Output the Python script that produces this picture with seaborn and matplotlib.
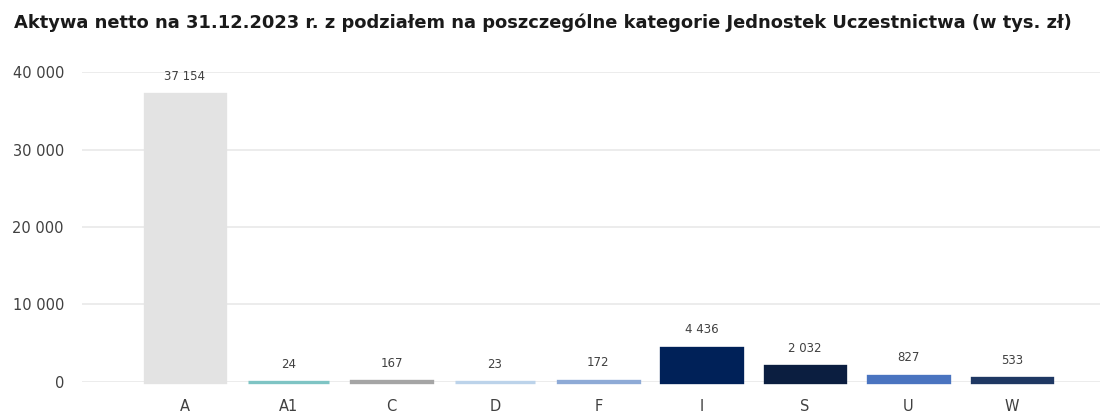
import pandas as pd
import seaborn as sns
import matplotlib.pyplot as plt
from matplotlib.ticker import FuncFormatter

# Net assets per unit category (thousand PLN)
categories = ["A", "A1", "C", "D", "F", "I", "S", "U", "W"]
values = [37154, 24, 167, 23, 172, 4436, 2032, 827, 533]
colors = ["#e3e3e3", "#7ec4c4", "#a5a5a5", "#bcd3ea", "#8eaad6",
          "#002158", "#0b1e40", "#4a74c0", "#1f3863"]

TITLE = "Aktywa netto na 31.12.2023 r. z podziałem na poszczególne kategorie Jednostek Uczestnictwa (w tys. zł)"


def fmt_space(v):
    return "{:,.0f}".format(v).replace(",", " ")


def main():
    sns.set_style("white")
    plt.rcParams["font.family"] = ["DejaVu Sans"]

    df = pd.DataFrame({"cat": categories, "val": values})

    fig = plt.figure(figsize=(11.05, 4.12), dpi=100)
    ax = fig.add_axes([0.0742, 0.073, 0.921, 0.752])

    # outline in the bar colour so the tiny values still show up as a line
    sns.barplot(data=df, x="cat", y="val", hue="cat", palette=colors,
                legend=False, width=0.78, ax=ax, saturation=1, linewidth=2.4)
    for patch, c in zip(ax.patches, colors):
        patch.set_edgecolor(c)
        patch.set_clip_on(False)

    ax.set_ylim(0, 40000)
    ax.set_xlim(-0.996, 8.85)
    ax.set_yticks([0, 10000, 20000, 30000, 40000])
    ax.yaxis.set_major_formatter(FuncFormatter(lambda v, p: fmt_space(v)))
    ax.grid(axis="y", color="#e9e9e9", linewidth=1.2)
    ax.set_axisbelow(True)
    for s in ax.spines.values():
        s.set_visible(False)
    ax.tick_params(axis="both", length=0, labelsize=10.5, labelcolor="#404040")
    ax.tick_params(axis="y", pad=13)
    ax.tick_params(axis="x", pad=12)
    ax.set_xlabel("")
    ax.set_ylabel("")

    for i, v in enumerate(values):
        ax.annotate(fmt_space(v), (i, v), xytext=(0, 8), textcoords="offset points",
                    ha="center", va="bottom", fontsize=8.5, color="#404040",
                    annotation_clip=False)

    fig.text(0.491, 0.944, TITLE, ha="center", va="center", fontsize=12.9,
             fontweight="bold", color="#1a1a1a")

    fig.savefig("out.png", dpi=100)
    plt.close(fig)


if __name__ == "__main__":
    main()
